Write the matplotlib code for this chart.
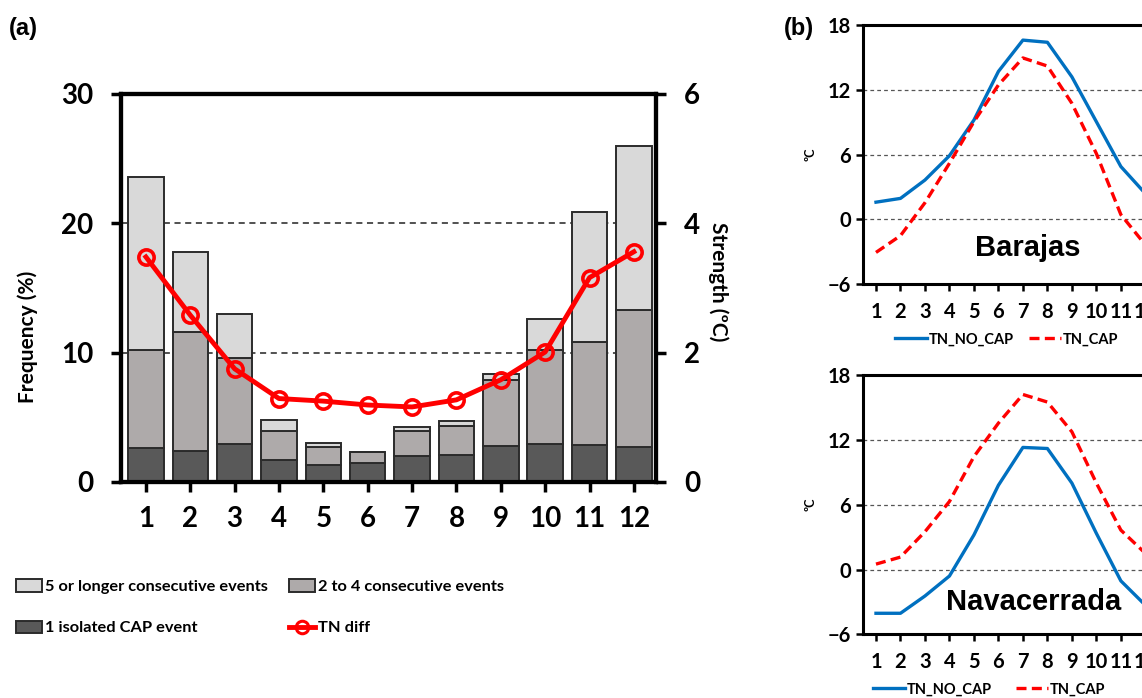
import numpy as np
import matplotlib
matplotlib.use('Agg')
import matplotlib.pyplot as plt
from matplotlib.patches import Patch
from matplotlib.lines import Line2D

plt.rcParams['font.family'] = ['Lato', 'DejaVu Sans']
plt.rcParams['font.weight'] = 'bold'

months = np.arange(1, 13)

# panel (a) frequency (%) stacked
iso_cap = [2.6, 2.4, 2.9, 1.7, 1.3, 1.45, 2.0, 2.1, 2.75, 2.9, 2.85, 2.7]
two_to_four = [7.6, 9.2, 6.65, 2.25, 1.4, 0.85, 1.95, 2.25, 5.1, 7.3, 8.0, 10.6]
five_more = [13.4, 6.2, 3.45, 0.85, 0.3, 0.0, 0.3, 0.4, 0.5, 2.4, 10.0, 12.7]
tn_diff = [3.48, 2.58, 1.75, 1.29, 1.25, 1.19, 1.16, 1.27, 1.58, 2.01, 3.16, 3.56]

# panel (b) monthly TN (ºC)
barajas_no_cap = [1.6, 1.95, 3.65, 5.9, 9.2, 13.7, 16.6, 16.4, 13.2, 9.05, 4.9, 2.4]
barajas_cap = [-3.05, -1.5, 1.55, 5.2, 9.05, 12.45, 14.95, 14.2, 10.75, 6.1, 0.45, -2.35]
nava_no_cap = [-4.05, -4.05, -2.45, -0.6, 3.2, 7.8, 11.3, 11.2, 8.0, 3.35, -1.05, -3.3]
nava_cap = [0.5, 1.15, 3.5, 6.3, 10.45, 13.55, 16.2, 15.5, 12.75, 8.0, 3.65, 1.5]

fig = plt.figure(figsize=(11.42, 6.98), dpi=100)

# ---------------- panel (a)
ax = fig.add_axes([0.106, 0.3095, 0.4685, 0.5559])
ax2 = ax.twinx()

bot2 = np.array(iso_cap)
bot3 = bot2 + np.array(two_to_four)
ec = '#2b2b2b'
ax.bar(months, iso_cap, width=0.8, color='#595959', edgecolor=ec, linewidth=1.4, zorder=3)
ax.bar(months, two_to_four, width=0.8, bottom=bot2, color='#aeaaaa', edgecolor=ec, linewidth=1.4, zorder=3)
ax.bar(months, five_more, width=0.8, bottom=bot3, color='#d9d9d9', edgecolor=ec, linewidth=1.4, zorder=3)
for g in [10, 20]:
    ax.axhline(g, color='#222222', ls=(0, (4, 3)), lw=1.1, zorder=1)

ax.set_xlim(0.44, 12.5)
ax.set_ylim(0, 30)
ax.set_yticks([0, 10, 20, 30])
ax.set_xticks(months)
ax.tick_params(axis='both', labelsize=20, width=2.5, length=7, direction='out')
ax.tick_params(axis='x', pad=10)
ax.tick_params(axis='y', pad=13)
plt.setp(ax.get_xticklabels() + ax.get_yticklabels(), fontweight='bold')
ax.set_ylabel('Frequency (%)', fontsize=15, fontweight='bold')
ax.yaxis.set_label_coords(-0.155, 0.374)
for s in ax.spines.values():
    s.set_linewidth(3)

ax2.plot(months, tn_diff, color='#ff0000', lw=3.5, marker='o', ms=11,
         mfc='none', mec='#ff0000', mew=2.6, zorder=5)
ax2.set_ylim(0, 6)
ax2.set_yticks([0, 2, 4, 6])
ax2.tick_params(axis='y', labelsize=20, width=2.5, length=7, direction='out', pad=13)
plt.setp(ax2.get_yticklabels(), fontweight='bold')
ax2.set_ylabel('Strength (ºC)', fontsize=15, fontweight='bold', rotation=-90, va='center')
ax2.yaxis.set_label_coords(1.116, 0.515)
for s in ax2.spines.values():
    s.set_linewidth(3)

leg_kw = dict(loc='upper left', frameon=False, prop={'size': 11.8, 'weight': 'bold'},
              handlelength=1.6, handleheight=0.8, handletextpad=0.15,
              labelspacing=1.6, borderpad=0, borderaxespad=0)
leg1 = fig.legend([Patch(facecolor='#d9d9d9', edgecolor=ec, lw=1.4),
                   Patch(facecolor='#595959', edgecolor=ec, lw=1.4)],
                  ['5 or longer consecutive events', '1 isolated CAP event'],
                  bbox_to_anchor=(0.014, 0.170), **leg_kw)
leg2 = fig.legend([Patch(facecolor='#aeaaaa', edgecolor=ec, lw=1.4),
                   Line2D([], [], color='#ff0000', lw=3.5, marker='o', ms=9, mfc='none', mew=2.2)],
                  ['2 to 4 consecutive events', 'TN diff'],
                  bbox_to_anchor=(0.253, 0.170), **leg_kw)

fig.text(0.008, 0.975, '(a)', fontsize=17, fontweight='bold', family='Liberation Sans', va='top')
fig.text(0.686, 0.975, '(b)', fontsize=17, fontweight='bold', family='Liberation Sans', va='top')

# ---------------- panel (b)
def station(rect, no_cap, cap, name, name_xy, leg_x, leg_sp):
    a = fig.add_axes(rect)
    for g in [0, 6, 12]:
        a.axhline(g, color='#555555', ls=(0, (3, 2.5)), lw=0.9, zorder=1)
    l1, = a.plot(months, no_cap, color='#0070c0', lw=2.4, zorder=3)
    l2, = a.plot(months, cap, color='#ff0000', lw=2.4, ls=(0, (3, 1.6)), zorder=3)
    a.set_xlim(0.47, 12.75)
    a.set_ylim(-6, 18)
    a.set_yticks([-6, 0, 6, 12, 18])
    a.set_xticks(months)
    a.tick_params(axis='both', labelsize=14.5, width=1.8, length=5, direction='out')
    a.tick_params(axis='x', pad=8)
    plt.setp(a.get_xticklabels() + a.get_yticklabels(), fontweight='bold')
    a.set_ylabel('ºC', fontsize=9, fontweight='bold', labelpad=8)
    for s in a.spines.values():
        s.set_linewidth(2.2)
    a.spines['right'].set_visible(False)
    a.text(name_xy[0], name_xy[1], name, fontsize=21, fontweight='bold', family='Liberation Sans',
           ha='center', va='center')
    a.legend([l1, l2], ['TN_NO_CAP', 'TN_CAP'], ncol=2, loc='center left',
             bbox_to_anchor=(leg_x, -0.212), frameon=False,
             prop={'size': 10.5, 'weight': 'bold'}, borderpad=0, borderaxespad=0,
             handlelength=2.2, handletextpad=0.15, columnspacing=leg_sp)
    return a

station([0.7557, 0.5927, 0.2633, 0.3715], barajas_no_cap, barajas_cap, 'Barajas',
        (7.2, -2.6), 0.106, 1.0)
station([0.7557, 0.0912, 0.2633, 0.3715], nava_no_cap, nava_cap, 'Navacerrada',
        (7.42, -3.0), 0.033, 1.6)

fig.savefig('out.png', dpi=100)
